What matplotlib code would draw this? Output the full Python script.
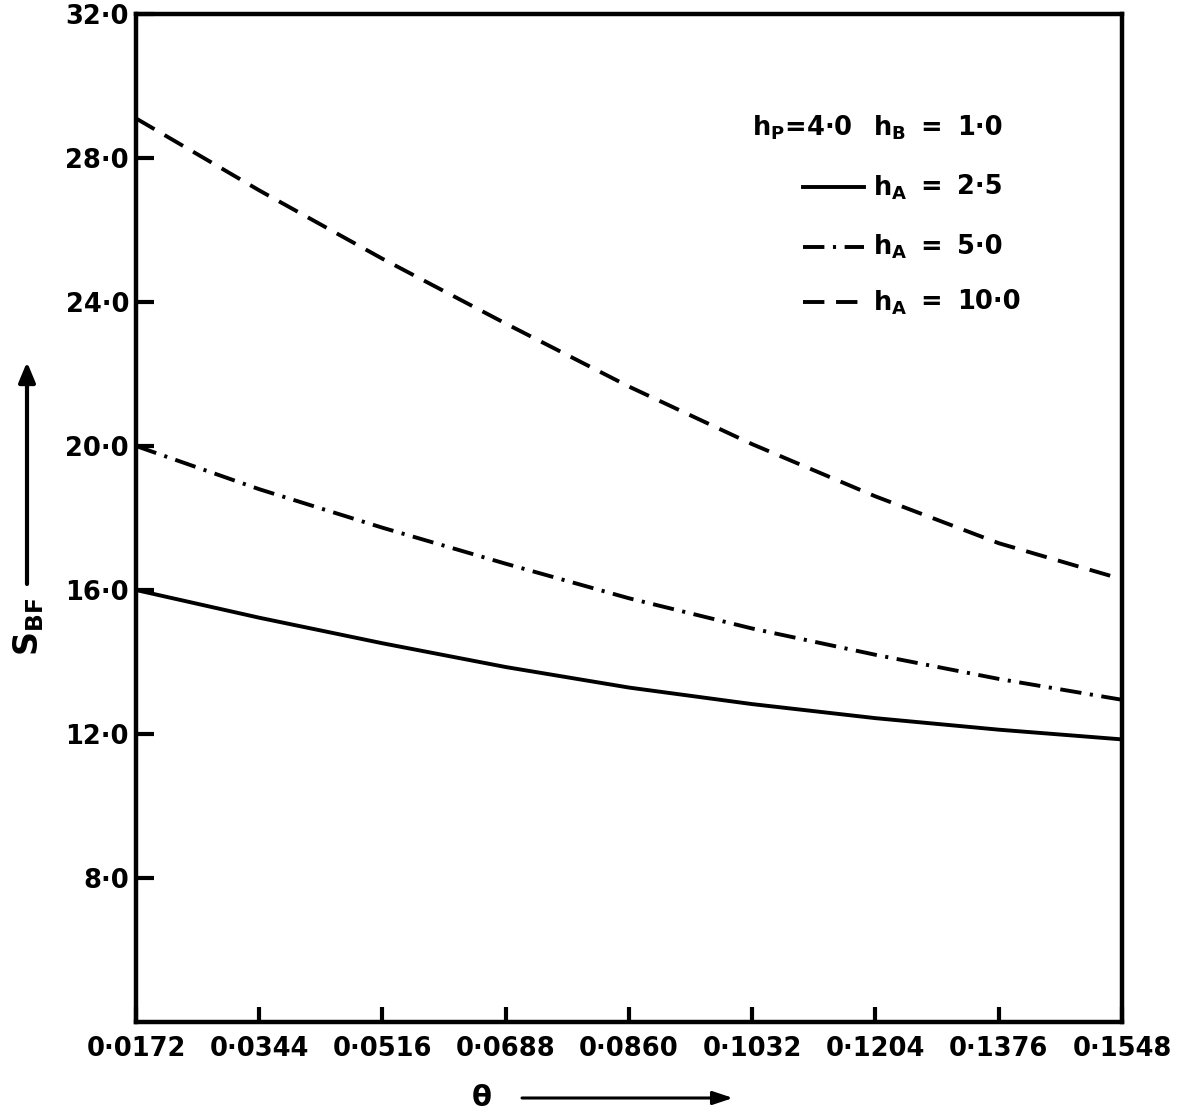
import matplotlib
matplotlib.use("Agg")
import matplotlib.pyplot as plt
from matplotlib.lines import Line2D
from matplotlib.patches import FancyArrowPatch

# theta values (x) and S_BF curves for h_P = 4.0, h_B = 1.0
theta = [0.0172, 0.0344, 0.0516, 0.0688, 0.0860, 0.1032, 0.1204, 0.1376, 0.1548]
s_ha_2_5 = [16.0, 15.23, 14.52, 13.86, 13.29, 12.83, 12.44, 12.12, 11.85]
s_ha_5_0 = [20.0, 18.8, 17.73, 16.73, 15.77, 14.93, 14.2, 13.53, 12.95]
s_ha_10_0 = [29.1, 27.1, 25.2, 23.4, 21.65, 20.05, 18.6, 17.3, 16.3]

x_ticklabels = ["0·0172", "0·0344", "0·0516", "0·0688", "0·0860",
                "0·1032", "0·1204", "0·1376", "0·1548"]
y_ticks = [8.0, 12.0, 16.0, 20.0, 24.0, 28.0, 32.0]
y_ticklabels = ["8·0", "12·0", "16·0", "20·0", "24·0", "28·0", "32·0"]

legend_rows = [("—", "2·5"), ("-.", "5·0"), ("--", "10·0")]

plt.rcParams["font.family"] = ["DejaVu Sans"]
plt.rcParams["font.weight"] = "bold"
plt.rcParams["mathtext.default"] = "regular"

W, H = 1190, 1112
fig = plt.figure(figsize=(W / 100, H / 100), dpi=100)
ax = fig.add_axes([136 / W, 1 - 1022 / H, 986 / W, 1008 / H])

LW = 2.8
styles = {
    "—": dict(linestyle="-"),
    "-.": dict(linestyle=(0, (5.5, 2.2, 0.8, 2.2))),
    "--": dict(linestyle=(0, (5.5, 3.0))),
}

ax.plot(theta, s_ha_2_5, color="black", lw=LW, **styles["—"])
ax.plot(theta, s_ha_5_0, color="black", lw=LW, dash_capstyle="butt", **styles["-."])
ax.plot(theta, s_ha_10_0, color="black", lw=LW, dash_capstyle="butt", **styles["--"])

ax.set_xlim(theta[0], theta[-1])
ax.set_ylim(4.0, 32.0)
ax.set_xticks(theta)
ax.set_xticklabels(x_ticklabels)
ax.set_yticks(y_ticks)
ax.set_yticklabels(y_ticklabels)
ax.tick_params(axis="both", direction="in", width=3, labelsize=18.5, colors="black")
ax.tick_params(axis="y", length=13, pad=5)
ax.tick_params(axis="x", length=11, pad=10)
for sp in ax.spines.values():
    sp.set_linewidth(3.2)

# legend block, placed by hand
fs = 18.5
ax.text(0.625, 0.887, "h$_P$=4·0", transform=ax.transAxes, fontsize=fs,
        va="center", ha="left")
ax.text(0.747, 0.887, "h$_B$", transform=ax.transAxes, fontsize=fs,
        va="center", ha="left")
ax.text(0.806, 0.887, "=", transform=ax.transAxes, fontsize=fs,
        va="center", ha="center")
ax.text(0.833, 0.887, "1·0", transform=ax.transAxes, fontsize=fs,
        va="center", ha="left")

row_y = [0.828, 0.769, 0.714]
for (key, val), yy in zip(legend_rows, row_y):
    ax.add_line(Line2D([0.676, 0.738], [yy, yy], transform=ax.transAxes,
                       color="black", lw=LW, dash_capstyle="butt", **styles[key]))
    ax.text(0.747, yy, "h$_A$", transform=ax.transAxes, fontsize=fs,
            va="center", ha="left")
    ax.text(0.806, yy, "=", transform=ax.transAxes, fontsize=fs,
            va="center", ha="center")
    ax.text(0.833, yy, val, transform=ax.transAxes, fontsize=fs,
            va="center", ha="left")

# axis labels with arrows
fig.text(29 / W, 1 - 627 / H, "S$_{BF}$", rotation=90, fontsize=24,
         ha="center", va="center")
fig.add_artist(FancyArrowPatch(
    (27 / W, 1 - 584 / H), (27 / W, 1 - 362 / H), transform=fig.transFigure,
    arrowstyle="-|>,head_length=6,head_width=2.5", lw=3, color="black",
    mutation_scale=2, shrinkA=0, shrinkB=0))
fig.text(482 / W, 1 - 1098 / H, "θ", fontsize=21, ha="center", va="center")
fig.add_artist(FancyArrowPatch(
    (522 / W, 1 - 1098 / H), (733 / W, 1 - 1098 / H), transform=fig.transFigure,
    arrowstyle="-|>,head_length=6,head_width=2", lw=2.2, color="black",
    mutation_scale=2, shrinkA=0, shrinkB=0))

fig.savefig("out.png", dpi=100)
